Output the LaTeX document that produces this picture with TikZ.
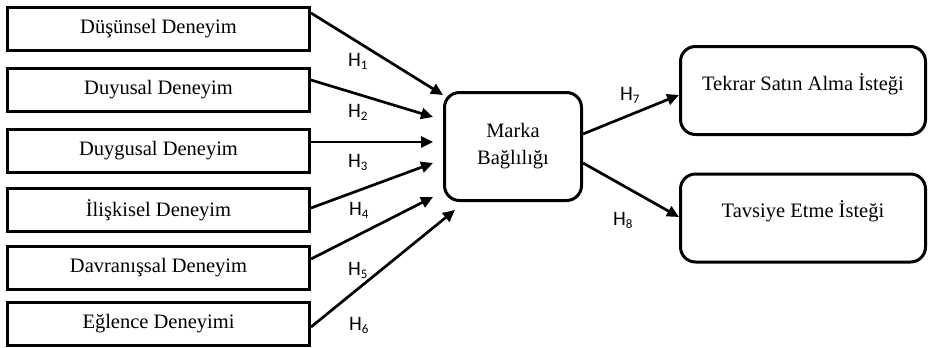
\documentclass[tikz,border=0pt]{standalone}
\usepackage{fontspec}
\setmainfont{Liberation Serif}
\newfontfamily\labfont[Numbers=Lining]{Carlito}
\usetikzlibrary{arrows.meta}
\newcommand{\hsub}[1]{H\raisebox{-3.5pt}{\fontsize{13}{14}\selectfont #1}}
\begin{document}
\begin{tikzpicture}[x=1pt,y=-1pt,
  lbox/.style={draw, line width=3pt, minimum width=302pt, minimum height=43pt, inner sep=0pt, font=\fontsize{20.5}{24}\selectfont},
  rbox/.style={draw, line width=3pt, rounded corners=15pt, minimum width=245pt, minimum height=88pt, inner sep=0pt, text height=14pt, text depth=15pt, font=\fontsize{20.5}{24}\selectfont},
  cbox/.style={draw, line width=3pt, rounded corners=15pt, minimum width=137pt, minimum height=108pt, inner sep=0pt, align=center, font=\fontsize{20.5}{27}\selectfont},
  arr/.style={line width=2.7pt, -{Triangle[length=12pt,width=11pt]}},
  hlab/.style={anchor=base west, inner sep=0pt, font=\labfont\fontsize{20.5}{22}\selectfont}
]
\useasboundingbox (0,0) rectangle (929,348);
\node[lbox] (d1) at (158.5,28.5) {Düşünsel Deneyim};
\node[lbox] (d2) at (158.5,90) {Duyusal Deneyim};
\node[lbox] (d3) at (158.5,151) {Duygusal Deneyim};
\node[lbox] (d4) at (158.5,210) {İlişkisel Deneyim};
\node[lbox] (d5) at (158.5,267.5) {Davranışsal Deneyim};
\node[lbox] (d6) at (158.5,324) {Eğlence Deneyimi};
\node[cbox] (mb) at (513,146.5) {Marka\\Bağlılığı};
\node[rbox] (r1) at (803,90.5) {Tekrar Satın Alma İsteği};
\node[rbox] (r2) at (803,218) {Tavsiye Etme İsteği};
\coordinate (t1) at (443,95);
\coordinate (t2) at (433,117);
\coordinate (t3) at (433,142);
\coordinate (t4) at (433,163);
\coordinate (t5) at (433,197);
\coordinate (t6) at (455,210);
\draw[arr] (d1.east |- 0,13) -- (t1);
\draw[arr] (d2.east |- 0,80) -- (t2);
\draw[arr] (d3.east |- 0,142) -- (t3);
\draw[arr] (d4.east |- 0,208) -- (t4);
\draw[arr] (d5.east |- 0,259) -- (t5);
\draw[arr] (d6.east |- 0,327) -- (t6);
\draw[arr] (mb.east |- 0,134) -- (r1.west |- 0,95);
\draw[arr] (mb.east |- 0,163) -- (r2.west |- 0,217);
\node[hlab] (h1) at (348,66) {\hsub{1}};
\node[hlab] (h2) at (348,117) {\hsub{2}};
\node[hlab] (h3) at (348,167) {\hsub{3}};
\node[hlab] (h4) at (349,215) {\hsub{4}};
\node[hlab] (h5) at (348,275) {\hsub{5}};
\node[hlab] (h6) at (349,330) {\hsub{6}};
\node[hlab] (h7) at (620,100) {\hsub{7}};
\node[hlab] (h8) at (613,225) {\hsub{8}};
\end{tikzpicture}
\end{document}
